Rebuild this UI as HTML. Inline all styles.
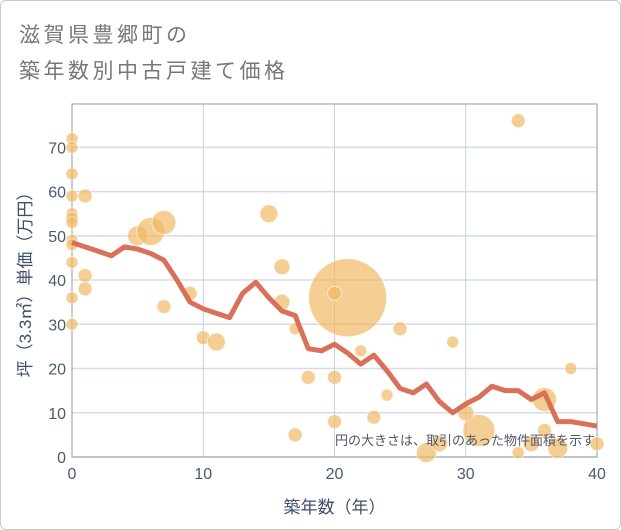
<!DOCTYPE html>
<html><head><meta charset="utf-8"><style>
html,body{margin:0;padding:0;background:#fff;}
#card{position:relative;width:619px;height:528px;border:1px solid #ccc;border-radius:6px;overflow:hidden;font-family:"Liberation Sans","Noto Sans CJK JP",sans-serif;}
#title{position:absolute;left:18px;top:17px;font-size:21px;line-height:36px;color:#777;letter-spacing:3.5px;}
</style></head><body>
<div id="card">
<div id="title">滋賀県豊郷町の<br>築年数別中古戸建て価格</div>
<svg id="chart" width="619" height="528" style="position:absolute;left:0;top:0"></svg>
</div>
<script>
const lineYears=[0,1,2,3,4,5,6,7,8,9,10,11,12,13,14,15,16,17,18,19,20,21,22,23,24,25,26,27,28,29,30,31,32,33,34,35,36,37,38,39,40];
const lineValues=[48.5,47.5,46.5,45.5,47.5,47,46,44.5,40,35,33.5,32.5,31.5,37,39.5,36,33,32,24.5,24,25.5,23.5,21,23,19.5,15.5,14.5,16.5,12.5,10,12,13.5,16,15,15,13,14.5,8,8,7.5,7];
const bubbleX=[0,0,0,0,0,0,0,0,0,0,0,0,1,1,1,5,6,7,7,9,10,11,15,16,16,17,18,17,20,20,21,20,25,22,24,23,29,34,38,36,31,30,27,28,34,35,36,37,40];
const bubbleY=[72,70,64,59,55,54,53,49,48,44,36,30,59,41,38,50,51,53,34,37,27,26,55,43,35,29,18,5,18,8,36,37,29,24,14,9,26,76,20,13,6,10,1,3,1,3,6,2,3];
const bubbleR=[6,6,6,6,6,6,6,6,6,6,6,6,7,7,7,10,14,12,7,7,7,9,9,8,8,6,7,7,7,7,39,7,7,6,6,7,6,7,6,12,16,8,10,8,6,8,7,10,7];
const xTicks=[0,10,20,30,40];
const yTicks=[0,10,20,30,40,50,60,70];
const NS="http://www.w3.org/2000/svg";
const svg=document.getElementById('chart');
const L=71,R=596,T=103,B=456,XMAX=40,YMAX=79.8;
const sx=v=>L+(R-L)*v/XMAX, sy=v=>B-(B-T)*v/YMAX;
function mk(tag,attrs,parent){const e=document.createElementNS(NS,tag);for(const k in attrs)e.setAttribute(k,attrs[k]);(parent||svg).appendChild(e);return e;}
const grid=mk('g',{});


yTicks.forEach(t=>{const l=mk('line',{x1:L,x2:R,y1:sy(t),y2:sy(t),stroke:'#d3dde8','stroke-width':1.5},grid);


const tx=mk('text',{x:L-6,y:sy(t)+6,'text-anchor':'end','font-size':16,fill:'#4a5a70'});tx.textContent=t;

});
xTicks.forEach(t=>{const l=mk('line',{x1:sx(t),x2:sx(t),y1:T,y2:B,stroke:'#c5d1de','stroke-width':1},grid);


const tx=mk('text',{x:sx(t),y:B+22,'text-anchor':'middle','font-size':16,fill:'#4a5a70'});tx.textContent=t;

});
const frame=mk('rect',{x:L,y:T,width:R-L,height:B-T,fill:'none',stroke:'#999','stroke-width':1});


const bg=mk('g',{});


bubbleX.forEach((x,i)=>{const c=mk('circle',{cx:sx(x),cy:sy(bubbleY[i]),r:bubbleR[i],fill:'rgba(240,185,100,0.7)',stroke:'rgba(255,255,255,0.6)','stroke-width':1},bg);

});
const pts=lineYears.map((y,i)=>sx(y)+','+sy(lineValues[i])).join(' ');
const pl=mk('polyline',{points:pts,fill:'none',stroke:'#d9705a','stroke-width':5,'stroke-linejoin':'round'});


const note=mk('text',{x:R-2,y:444,'text-anchor':'end','font-size':13,fill:'#556'});note.textContent='円の大きさは、取引のあった物件面積を示す';


const xt=mk('text',{x:(L+R)/2,y:512,'text-anchor':'middle','font-size':17,fill:'#3e5068'});xt.textContent='築年数（年）';


const yt=mk('text',{x:0,y:0,'text-anchor':'middle','font-size':17,fill:'#3e5068',transform:'translate(30,'+((T+B)/2)+') rotate(-90)'});yt.textContent='坪（3.3㎡）単価（万円）';


</script>
</body></html>
